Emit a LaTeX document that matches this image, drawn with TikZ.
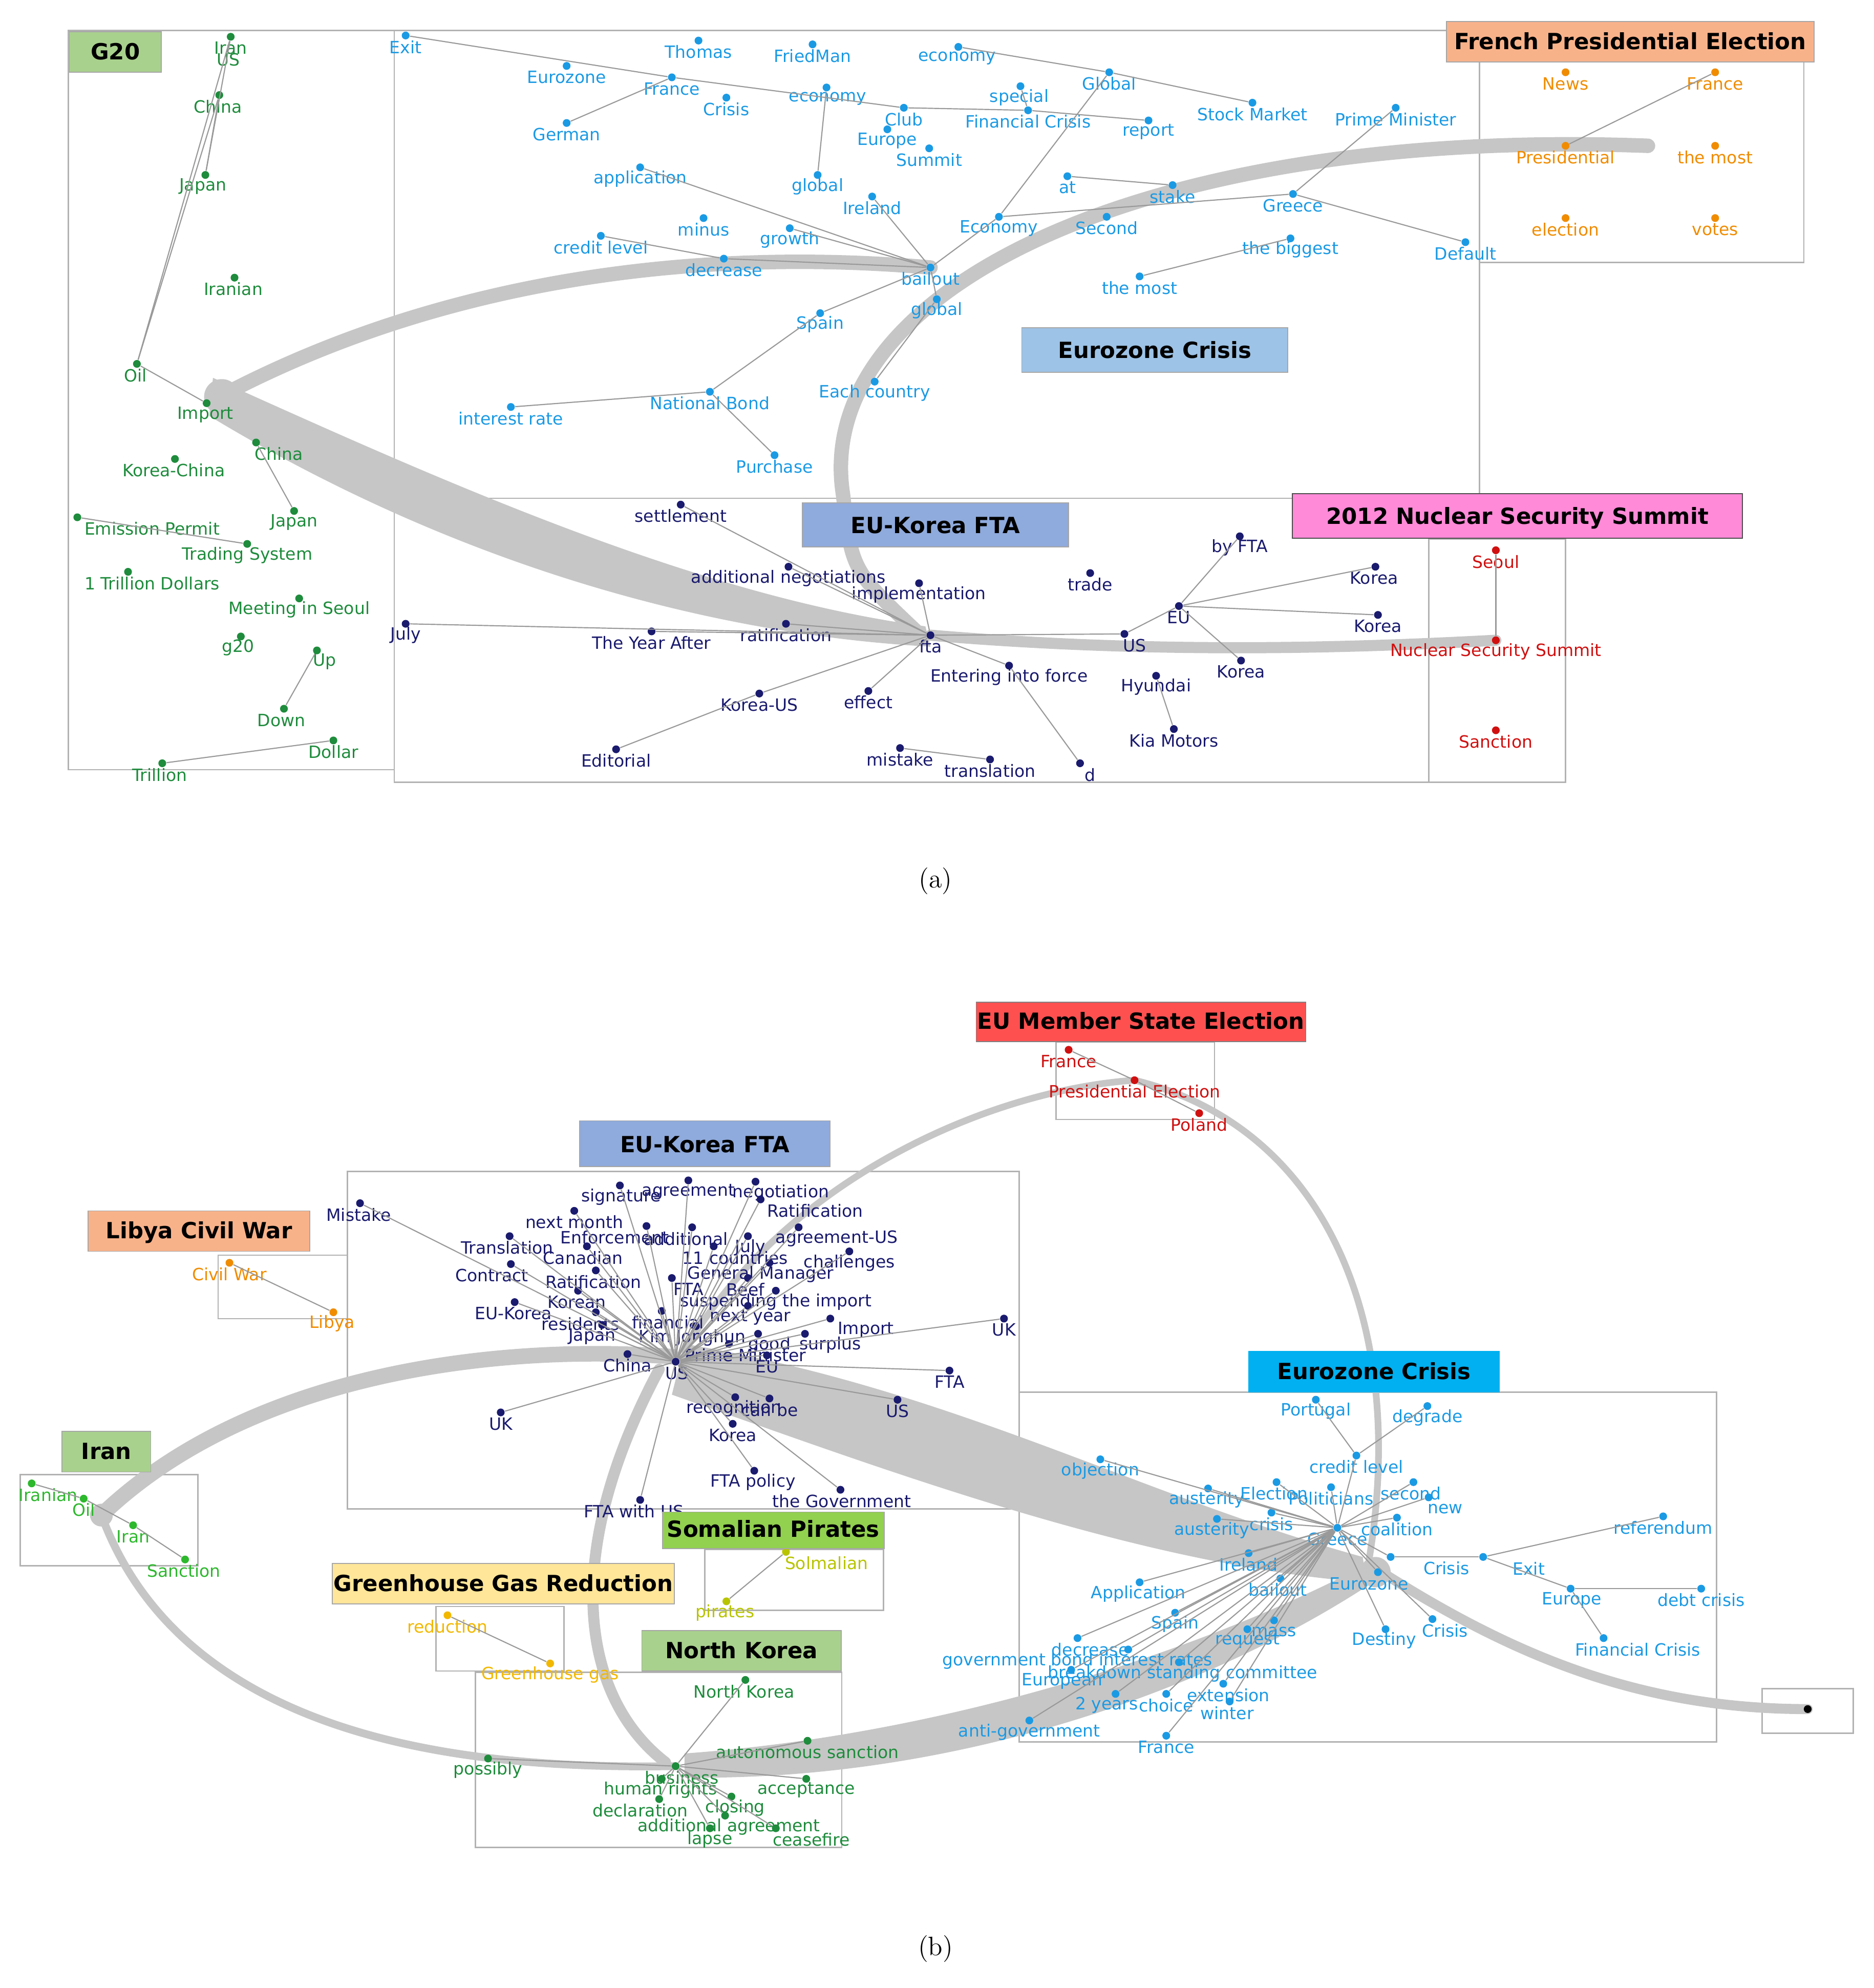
\documentclass[tikz,border=0pt]{standalone}
\usepackage{fontspec}
\newfontfamily\wordfont{DejaVu Sans}
\usetikzlibrary{positioning}
\definecolor{cG}{HTML}{1E8C3C}
\definecolor{cB}{HTML}{1B9AE4}
\definecolor{cO}{HTML}{F08C00}
\definecolor{cN}{HTML}{1A1A6E}
\definecolor{cR}{HTML}{D01010}
\definecolor{cI}{HTML}{2DB82D}
\definecolor{cY}{HTML}{F2B800}
\definecolor{cS}{HTML}{B8C400}
\definecolor{tGreen}{HTML}{A9D18E}
\definecolor{tOrange}{HTML}{F8B28A}
\definecolor{tBlue}{HTML}{9DC3E6}
\definecolor{tFta}{HTML}{8FAADC}
\definecolor{tPink}{HTML}{FF8AD8}
\definecolor{tRed}{HTML}{FF5050}
\definecolor{tCyan}{HTML}{00B0F0}
\definecolor{tLime}{HTML}{92D050}
\definecolor{tYellow}{HTML}{FFE699}
\tikzstyle{dot} = [circle, inner sep=0pt, minimum size=3.5pt]
\tikzstyle{word} = [inner sep=0pt, font=\wordfont\fontsize{7.6}{9}\selectfont]
\tikzstyle{title} = [draw=gray!70, inner sep=0pt, font=\wordfont\bfseries\fontsize{10}{12}\selectfont]
\tikzstyle{zone} = [draw=gray!60, line width=0.6pt]
\tikzstyle{link} = [draw=gray!80, line width=0.5pt]
\tikzstyle{flow} = [draw=gray!45, line cap=round]
\tikzstyle{band} = [fill=gray!45, draw=none]

\begin{document}
\begin{tikzpicture}[x=0.02cm, y=-0.02cm]
\useasboundingbox (0,0) rectangle (1478,1568);

% ---------- (a) ----------
\draw [zone] (54,24) rectangle (311,607);
\draw [zone] (311,24) rectangle (1167,393);
\draw [zone] (1167,48) rectangle (1423,207);
\draw [zone] (311,393) rectangle (1127,617);
\draw [zone] (1127,425) rectangle (1235,617);

% flows (a)
\draw [flow, line width=6.5pt] (175,312) .. controls (350,220) and (550,195) .. (734,211);
\draw [flow, line width=6.5pt] (1300,115) .. controls (900,100) and (640,230) .. (665,390) .. controls (672,450) .. (725,500);
\draw [flow, line width=5pt] (734,501) .. controls (900,515) and (1050,512) .. (1180,505);
\path [band] (168,298) .. controls (350,380) and (550,470) .. (730,494) -- (734,510)
  .. controls (550,500) and (350,440) .. (165,328) -- cycle;
\fill [gray!45] (175,313) circle (14);

\foreach \n/\x/\y/\tx/\t in {g1/182/29/182/Iran, g3/173/75/172/China, g4/162/138/160/Japan,
  g5/185/219/184/Iranian, g6/108/287/107/Oil, g7/163/318/162/Import, g8/202/349/220/China,
  g9/138/362/137/Korea-China, g10/232/403/232/Japan, g11/61/408/120/Emission Permit,
  g12/195/429/195/Trading System, g13/101/451/120/1 Trillion Dollars,
  g14/236/472/236/Meeting in Seoul, g15/190/502/188/g20, g16/250/513/256/Up,
  g17/224/559/222/Down, g18/263/584/263/Dollar, g19/128/602/126/Trillion}
  {\node (\n) [dot, fill=cG] at (\x,\y) {}; \node (\n t) [word, text=cG] at (\tx,{\y+9}) {\t};}
\node (g2t) [word, text=cG] at (180,47) {US};
\foreach \a/\b in {g1/g6, g3/g6, g3/g4, g1/g4, g6/g7, g8/g10, g19/g18, g16/g17, g11/g12}
  \draw [link] (\a) -- (\b);

\foreach \n/\x/\y/\tx/\t in {e1/320/28/320/Exit, e2/551/32/551/Thomas, e3/641/35/641/FriedMan,
  e4/756/37/755/economy, e5/447/52/447/Eurozone, e6/530/61/530/France, e7/875/57/875/Global,
  e8/573/77/573/Crisis, e9/652/69/653/economy, e10/805/68/804/special, e11/988/81/988/Stock Market,
  e12/1101/85/1101/Prime Minister, e13/713/85/713/Club, e14/811/87/811/Financial Crisis,
  e15/447/97/447/German, e16/700/102/700/Europe, e17/906/95/906/report, e18/733/117/733/Summit,
  e19/505/132/505/application, e20/645/138/645/global, e21/842/139/842/at, e22/925/146/925/stake,
  e23/688/155/688/Ireland, e24/1020/153/1020/Greece, e25/555/172/555/minus, e26/623/180/623/growth,
  e27/788/171/788/Economy, e28/873/171/873/Second, e29/474/186/474/credit level,
  e30/1018/188/1018/the biggest, e31/1156/191/1156/Default, e32/571/204/571/decrease,
  e33/734/211/734/bailout, e34/899/218/899/the most, e35/739/236/739/global, e36/647/247/647/Spain,
  e37/690/301/690/Each country, e38/560/309/560/National Bond, e39/403/321/403/interest rate,
  e40/611/359/611/Purchase}
  {\node (\n) [dot, fill=cB] at (\x,\y) {}; \node (\n t) [word, text=cB] at (\tx,{\y+9}) {\t};}
\foreach \a/\b in {e1/e6, e15/e6, e6/e13, e4/e7, e7/e11, e9/e20, e7/e27, e10/e14, e14/e17,
  e13/e14, e21/e22, e12/e24, e24/e31, e27/e24, e27/e33, e33/e23, e33/e19, e33/e26, e29/e32,
  e32/e33, e33/e36, e36/e38, e38/e39, e38/e40, e35/e37, e30/e34, e33/e35}
  \draw [link] (\a) -- (\b);

\foreach \n/\x/\y/\t in {f1/1235/57/News, f2/1353/57/France, f3/1235/115/Presidential,
  f4/1353/115/the most, f5/1235/172/election, f6/1353/172/votes}
  {\node (\n) [dot, fill=cO] at (\x,\y) {}; \node (\n t) [word, text=cO] at (\x,{\y+9}) {\t};}
\draw [link] (f2) -- (f3);

\foreach \n/\x/\y/\tx/\t in {k1/537/398/537/settlement, k2/622/447/622/additional negotiations,
  k3/725/460/725/implementation, k4/860/452/860/trade, k5/978/423/978/by FTA, k6/1085/447/1084/Korea,
  k7/930/478/930/EU, k8/1087/485/1087/Korea, k9/320/492/320/July, k10/620/492/620/ratification,
  k11/514/498/514/The Year After, k12/734/501/734/fta, k13/887/500/895/US, k14/979/521/979/Korea,
  k15/796/525/796/Entering into force, k16/912/533/912/Hyundai, k17/599/547/599/Korea-US,
  k18/685/545/685/effect, k19/926/575/926/Kia Motors, k20/486/591/486/Editorial,
  k21/710/590/710/mistake, k22/781/599/781/translation, k23/852/602/860/d}
  {\node (\n) [dot, fill=cN] at (\x,\y) {}; \node (\n t) [word, text=cN] at (\tx,{\y+9}) {\t};}
\foreach \a/\b in {k12/k1, k12/k2, k12/k3, k12/k9, k12/k10, k12/k11, k12/k13, k12/k15, k12/k17,
  k12/k18, k13/k7, k7/k5, k7/k6, k7/k8, k7/k14, k16/k19, k21/k22, k17/k20, k15/k23}
  \draw [link] (\a) -- (\b);

\foreach \n/\y/\t in {n1/434/Seoul, n2/505/Nuclear Security Summit, n3/576/Sanction}
  {\node (\n) [dot, fill=cR] at (1180,\y) {}; \node (\n t) [word, text=cR] at (1180,{\y+9}) {\t};}
\draw [link] (n1) -- (n2);

\node (tG20) [title, fill=tGreen] at (91,41) {\makebox[1.45cm]{G20}\rule[-0.2cm]{0pt}{0.64cm}};
\node (tFre) [title, fill=tOrange] at (1286,33) {\makebox[5.8cm]{French Presidential Election}\rule[-0.2cm]{0pt}{0.64cm}};
\node (tEur) [title, fill=tBlue] at (911,276) {\makebox[4.2cm]{Eurozone Crisis}\rule[-0.22cm]{0pt}{0.7cm}};
\node (tFta) [title, fill=tFta] at (738,414) {\makebox[4.2cm]{EU-Korea FTA}\rule[-0.22cm]{0pt}{0.7cm}};
\node (tNuc) [title, draw=black!70, fill=tPink] at (1197,407) {\makebox[7.1cm]{2012 Nuclear Security Summit}\rule[-0.22cm]{0pt}{0.7cm}};
\node (capA) at (738,695) {\large (a)};

% ---------- (b) ----------
\draw [zone] (833,822) rectangle (958,883);
\draw [zone] (274,924) rectangle (804,1190);
\draw [zone] (172,990) rectangle (274,1040);
\draw [zone] (804,1098) rectangle (1354,1374);
\draw [zone] (16,1163) rectangle (156,1235);
\draw [zone] (556,1222) rectangle (697,1270);
\draw [zone] (344,1267) rectangle (445,1318);
\draw [zone] (375,1319) rectangle (664,1457);
\draw [zone] (1390,1332) rectangle (1462,1367);

% flows (b)
\draw [flow, line width=7pt] (80,1195) .. controls (200,1080) and (400,1060) .. (530,1070);
\draw [flow, line width=3.5pt] (80,1195) .. controls (150,1385) and (400,1395) .. (533,1393);
\draw [flow, line width=5pt] (520,1080) .. controls (440,1230) and (460,1340) .. (525,1390);
\draw [flow, line width=3pt] (540,1065) .. controls (620,930) and (780,860) .. (895,852);
\draw [flow, line width=3pt] (895,852) .. controls (1050,890) and (1110,1050) .. (1080,1230);
\draw [flow, line width=4.5pt] (1090,1240) .. controls (1200,1310) and (1300,1348) .. (1426,1348);
\path [band] (540,1060) .. controls (750,1095) and (900,1180) .. (1075,1228) -- (1078,1248)
  .. controls (900,1235) and (700,1160) .. (530,1100) -- cycle;
\path [band] (540,1383) .. controls (750,1368) and (950,1300) .. (1070,1238) -- (1080,1250)
  .. controls (950,1335) and (750,1405) .. (540,1402) -- cycle;
\fill [gray!45] (80,1195) circle (9);
\fill [gray!45] (1085,1240) circle (12);

\node (i0) [dot, fill=black] at (1426,1348) {};
\foreach \n/\x/\y/\t in {m1/843/828/France, m2/895/852/Presidential Election, m3/946/878/Poland}
  {\node (\n) [dot, fill=cR] at (\x,\y) {}; \node (\n t) [word, text=cR] at (\x,{\y+9}) {\t};}
\draw [link] (m1) -- (m2) -- (m3);

\node (l1) [dot, fill=cO] at (181,996) {}; \node (l1t) [word, text=cO] at (181,1005) {Civil War};
\node (l2) [dot, fill=cO] at (263,1035) {}; \node (l2t) [word, text=cO] at (262,1044) {Libya};
\draw [link] (l1) -- (l2);

\foreach \n/\x/\y/\tx/\t in {i1/25/1170/38/Iranian, i2/66/1182/66/Oil, i3/105/1203/105/Iran,
  i4/146/1230/145/Sanction}
  {\node (\n) [dot, fill=cI] at (\x,\y) {}; \node (\n t) [word, text=cI] at (\tx,{\y+9}) {\t};}
\draw [link] (i1) -- (i2) -- (i3) -- (i4);

\node (s1) [dot, fill=cS] at (620,1224) {}; \node (s1t) [word, text=cS] at (652,1233) {Solmalian};
\node (s2) [dot, fill=cS] at (573,1263) {}; \node (s2t) [word, text=cS] at (572,1272) {pirates};
\draw [link] (s1) -- (s2);
\node (h1) [dot, fill=cY] at (353,1274) {}; \node (h1t) [word, text=cY] at (353,1283) {reduction};
\node (h2) [dot, fill=cY] at (434,1312) {}; \node (h2t) [word, text=cY] at (434,1321) {Greenhouse gas};
\draw [link] (h1) -- (h2);

\foreach \n/\x/\y/\tx/\t in {p1/588/1325/587/North Korea, p2/637/1373/637/autonomous sanction,
  p3/385/1387/385/possibly, p4/533/1393/538/business, p5/522/1403/521/human rights,
  p6/636/1403/636/acceptance, p7/520/1419/505/declaration, p8/577/1417/580/closing,
  p9/572/1432/575/additional agreement, p10/560/1442/560/lapse, p11/612/1442/640/ceasefire}
  {\node (\n) [dot, fill=cG] at (\x,\y) {}; \node (\n t) [word, text=cG] at (\tx,{\y+9}) {\t};}
\foreach \k in {1,2,3,5,6,7,8,9,10,11}
  \draw [link] (p4) -- (p\k);

\foreach \n/\x/\y/\tx/\t in {q1/284/949/283/Mistake, q2/489/935/490/signature,
  q3/543/931/543/agreement, q4/596/932/616/negotiation, q5/453/955/453/next month,
  q6/600/946/643/Ratification, q7/510/967/485/Enforcement, q8/546/968/541/additional,
  q9/630/968/660/agreement-US, q10/402/975/400/Translation, q11/463/983/460/Canadian,
  q12/590/975/592/July, q13/563/983/580/11 countries, q14/670/987/670/challenges,
  q15/607/996/600/General Manager, q16/403/997/388/Contract, q17/470/1002/468/Ratification,
  q18/530/1008/543/FTA, q19/590/1008/588/Beef, q20/456/1018/455/Korean,
  q21/612/1018/612/suspending the import, q22/406/1027/405/EU-Korea, q23/590/1030/592/next year,
  q24/470/1035/458/residents, q25/522/1034/527/financial, q26/655/1040/683/Import,
  q27/792/1040/792/UK, q28/475/1045/467/Japan, q29/549/1046/546/Kim Jonghun,
  q30/598/1052/607/good, q31/635/1052/655/surplus, q32/575/1060/588/Prime Minister,
  q33/495/1068/495/China, q34/533/1074/534/US, q35/605/1069/605/EU, q36/749/1081/749/FTA,
  q37/395/1114/395/UK, q38/708/1104/708/US, q39/580/1102/579/recognition,
  q40/607/1103/607/can be, q41/578/1123/578/Korea, q42/595/1160/594/FTA policy,
  q43/663/1175/664/the Government, q44/505/1183/500/FTA with US}
  {\node (\n) [dot, fill=cN] at (\x,\y) {}; \node (\n t) [word, text=cN] at (\tx,{\y+9}) {\t};}
\foreach \k in {1,...,33,35,36,...,44}
  \draw [link] (q34) -- (q\k);

\foreach \n/\x/\y/\tx/\t in {z1/1038/1104/1038/Portugal, z2/1126/1109/1126/degrade,
  z3/1070/1148/1070/credit level, z4/868/1151/868/objection, z5/953/1174/952/austerity,
  z6/1007/1169/1005/Election, z7/1050/1173/1050/Politicians, z8/1115/1169/1113/second,
  z9/1127/1181/1140/new, z10/960/1198/956/austerity, z11/1003/1193/1003/crisis,
  z12/1102/1197/1102/coalition, z13/1055/1205/1055/Greece, z14/1312/1196/1312/referendum,
  z15/985/1225/985/Ireland, z16/1097/1228/1141/Crisis, z17/1170/1228/1206/Exit,
  z18/1010/1245/1008/bailout, z19/1087/1240/1080/Eurozone, z20/899/1248/898/Application,
  z21/1239/1253/1240/Europe, z22/1342/1253/1342/debt crisis, z23/927/1272/927/Spain,
  z24/1130/1277/1140/Crisis, z25/1093/1285/1092/Destiny, z26/1005/1278/1005/mass,
  z27/984/1285/984/request, z28/850/1292/860/decrease,
  z29/890/1301/850/government bond interest rates, z30/1265/1292/1292/Financial Crisis,
  z31/930/1311/933/breakdown standing committee, z32/845/1317/838/European,
  z33/965/1328/969/extension, z34/880/1336/873/2 years, z35/920/1336/920/choice,
  z36/970/1342/968/winter, z37/812/1357/812/anti-government, z38/920/1369/920/France}
  {\node (\n) [dot, fill=cB] at (\x,\y) {}; \node (\n t) [word, text=cB] at (\tx,{\y+9}) {\t};}
\foreach \k in {3,...,12,15,16,18,19,20,23,24,25,26,27,28,29,31,32,...,38}
  \draw [link] (z13) -- (z\k);
\foreach \a/\b in {z1/z3, z2/z3, z17/z14, z17/z21, z21/z22, z21/z30, z16/z17}
  \draw [link] (\a) -- (\b);

\node (tMem) [title, draw=gray, fill=tRed] at (900,806) {\makebox[5.2cm]{EU Member State Election}\rule[-0.2cm]{0pt}{0.62cm}};
\node (tFtb) [title, fill=tFta] at (556,902) {\makebox[3.95cm]{EU-Korea FTA}\rule[-0.22cm]{0pt}{0.72cm}};
\node (tLib) [title, fill=tOrange] at (157,971) {\makebox[3.5cm]{Libya Civil War}\rule[-0.2cm]{0pt}{0.64cm}};
\node (tEzb) [title, fill=tCyan, draw=tCyan] at (1084,1082) {\makebox[3.95cm]{Eurozone Crisis}\rule[-0.2cm]{0pt}{0.64cm}};
\node (tIra) [title, fill=tGreen] at (84,1145) {\makebox[1.4cm]{Iran}\rule[-0.2cm]{0pt}{0.64cm}};
\node (tSom) [title, fill=tLime] at (610,1207) {\makebox[3.5cm]{Somalian Pirates}\rule[-0.18cm]{0pt}{0.58cm}};
\node (tGre) [title, fill=tYellow] at (397,1249) {\makebox[5.4cm]{Greenhouse Gas Reduction}\rule[-0.2cm]{0pt}{0.64cm}};
\node (tNko) [title, fill=tGreen] at (585,1302) {\makebox[3.15cm]{North Korea}\rule[-0.2cm]{0pt}{0.64cm}};
\node (capB) at (738,1537) {\large (b)};
\end{tikzpicture}
\end{document}
